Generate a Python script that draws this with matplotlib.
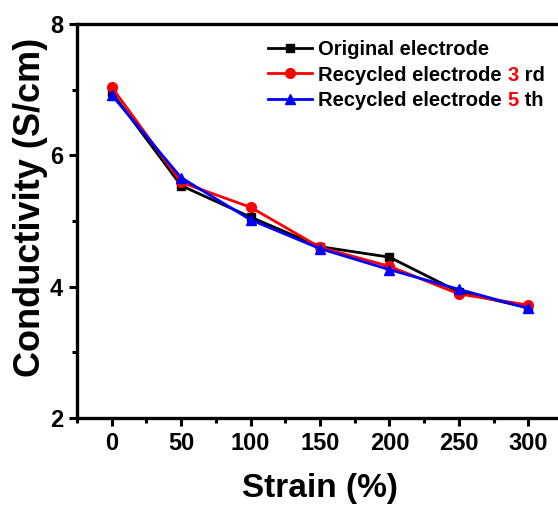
import numpy as np
import matplotlib.pyplot as plt
from matplotlib.ticker import MultipleLocator

plt.rcParams['font.family'] = ['Liberation Sans', 'DejaVu Sans']
plt.rcParams['font.weight'] = 'bold'

# strain (%) and conductivity (S/cm)
strain = [0, 50, 100, 150, 200, 250, 300]
original = [6.96, 5.54, 5.06, 4.61, 4.45, 3.92, 3.68]
recycled_3rd = [7.04, 5.59, 5.21, 4.60, 4.31, 3.89, 3.72]
recycled_5th = [6.92, 5.66, 5.02, 4.58, 4.26, 3.96, 3.67]

fig = plt.figure(figsize=(5.58, 5.07), dpi=100)
ax = fig.add_axes([0.138, 0.1755, 0.871, 0.777])

lw = 2.0
ax.plot(strain, original, '-s', color='black', lw=lw, ms=6, label='Original electrode')
ax.plot(strain, recycled_3rd, '-o', color='red', lw=lw, ms=7, label='Recycled electrode ')
ax.plot(strain, recycled_5th, '-^', color='blue', lw=lw, ms=7, label='Recycled electrode ')

ax.set_xlim(-25, 325)
ax.set_ylim(2, 8)
ax.xaxis.set_major_locator(MultipleLocator(50))
ax.xaxis.set_minor_locator(MultipleLocator(25))
ax.yaxis.set_major_locator(MultipleLocator(2))
ax.yaxis.set_minor_locator(MultipleLocator(1))
ax.tick_params(which='major', direction='out', length=6, width=2.2, labelsize=17, pad=4)
ax.tick_params(which='minor', direction='out', length=3.5, width=2.2)
for lab in ax.get_xticklabels() + ax.get_yticklabels():
    lab.set_fontweight('bold')
for s in ax.spines.values():
    s.set_linewidth(2.4)
ax.spines['right'].set_visible(False)

ax.set_xlabel('Strain (%)', fontsize=24, fontweight='bold', labelpad=13)
ax.set_ylabel('Conductivity (S/cm)', fontsize=26, fontweight='bold')
ax.yaxis.set_label_coords(-0.06, 0.535)

leg = ax.legend(loc='upper left', bbox_to_anchor=(0.462, 0.94), bbox_transform=fig.transFigure,
                frameon=False, fontsize=14.5, handlelength=2.2, handletextpad=0.3,
                labelspacing=0.3, borderpad=0)
for t in leg.get_texts():
    t.set_fontweight('bold')

# coloured numbers inside the legend labels
fig.canvas.draw()
renderer = fig.canvas.get_renderer()
suffixes = [('3', ' rd'), ('5', ' th')]
for t, (num, rest) in zip(leg.get_texts()[1:], suffixes):
    bb = t.get_window_extent(renderer)
    a = fig.text(bb.x1, bb.y0, num, transform=None, va='bottom', color='red',
                 fontsize=14.5, fontweight='bold')
    bb2 = a.get_window_extent(renderer)
    fig.text(bb2.x1, bb.y0, rest, transform=None, va='bottom', color='black',
             fontsize=14.5, fontweight='bold')

fig.savefig('out.png', dpi=100)
